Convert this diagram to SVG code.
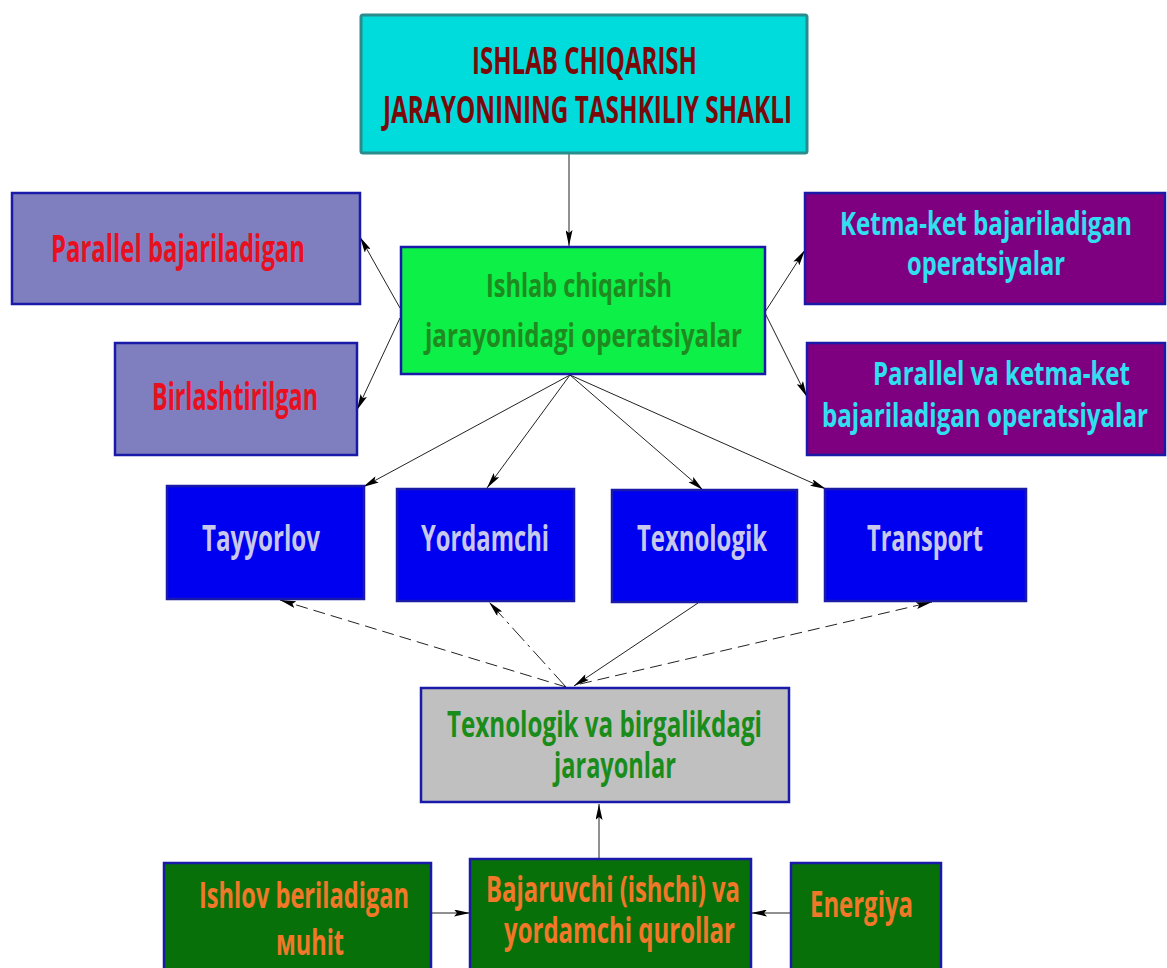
<svg xmlns="http://www.w3.org/2000/svg" width="1167" height="968" viewBox="0 0 1167 968">
<style>
text{font-family:"Open Sans",Lato,"Liberation Sans",sans-serif;font-weight:bold;text-anchor:middle}
.box{stroke:#1a1aa8;stroke-width:2.5}
.c{stroke:#222;stroke-width:1;fill:none}
.d1{stroke-dasharray:12 6}
.d2{stroke-dasharray:18 5 3 5}
.tt{fill:#7a0a0a;font-size:21.1px}
.tg{fill:#1f8a1f;font-size:18.3px}
.tr{fill:#e8101e;font-size:20.6px}
.tc{fill:#30e0f0;font-size:17.8px}
.tb{fill:#c8c8ec;font-size:20px}
.tj{fill:#1a8c1a;font-size:20px}
.to{fill:#f07828;font-size:19.6px}
</style>
<defs>
<marker id="ah" viewBox="0 0 16 7" refX="16" refY="3.5" markerWidth="16" markerHeight="7" markerUnits="userSpaceOnUse" orient="auto">
<path d="M0,0 L16,3.5 L0,7 L3,3.5 Z" fill="#000"/>
</marker>
</defs>
<rect width="1167" height="968" fill="#fff"/>
<g id="connectors">
<line class="c" x1="569" y1="153" x2="569" y2="246" marker-end="url(#ah)"/>
<line class="c" x1="400" y1="308" x2="360" y2="237" marker-end="url(#ah)"/>
<line class="c" x1="400" y1="318" x2="357" y2="410" marker-end="url(#ah)"/>
<line class="c" x1="765" y1="312" x2="805" y2="250" marker-end="url(#ah)"/>
<line class="c" x1="765" y1="313" x2="807" y2="397" marker-end="url(#ah)"/>
<line class="c" x1="570" y1="375" x2="363" y2="487" marker-end="url(#ah)"/>
<line class="c" x1="570" y1="375" x2="487" y2="488" marker-end="url(#ah)"/>
<line class="c" x1="570" y1="375" x2="703" y2="490" marker-end="url(#ah)"/>
<line class="c" x1="570" y1="375" x2="826" y2="489" marker-end="url(#ah)"/>
<line class="c d1" x1="566" y1="687" x2="280" y2="600" marker-end="url(#ah)"/>
<line class="c d2" x1="566" y1="687" x2="489" y2="602" marker-end="url(#ah)"/>
<line class="c" x1="698" y1="603" x2="574" y2="686" marker-end="url(#ah)"/>
<line class="c d1" x1="580" y1="684" x2="932" y2="602" marker-end="url(#ah)"/>
<line class="c" x1="599" y1="859" x2="599" y2="804" marker-end="url(#ah)"/>
<line class="c" x1="431" y1="913" x2="470" y2="913" marker-end="url(#ah)"/>
<line class="c" x1="791" y1="913" x2="751" y2="913" marker-end="url(#ah)"/>
</g>
<g id="n-top">
<rect x="361" y="15" width="446" height="138" rx="2" fill="#00dcdc" stroke="#2a8c8c" stroke-width="3"/>
<text class="tt" transform="translate(584.5 74) scale(1 1.8)" textLength="225" lengthAdjust="spacingAndGlyphs">ISHLAB CHIQARISH</text>
<text class="tt" transform="translate(587.5 123) scale(1 1.8)" textLength="409" lengthAdjust="spacingAndGlyphs">JARAYONINING TASHKILIY SHAKLI</text>
</g>
<g id="n-center">
<rect class="box" x="401" y="247" width="364" height="127" fill="#0cf048"/>
<text class="tg" transform="translate(579 297) scale(1 1.8)" textLength="186" lengthAdjust="spacingAndGlyphs">Ishlab chiqarish</text>
<text class="tg" transform="translate(583.5 347) scale(1 1.8)" textLength="317" lengthAdjust="spacingAndGlyphs">jarayonidagi operatsiyalar</text>
</g>
<g id="n-parallel">
<rect class="box" x="12" y="193" width="348" height="111" fill="#7f7fbf"/>
<text class="tr" transform="translate(178 262) scale(1 1.8)" textLength="254" lengthAdjust="spacingAndGlyphs">Parallel bajariladigan</text>
</g>
<g id="n-birlash">
<rect class="box" x="115" y="343" width="242" height="112" fill="#7f7fbf"/>
<text class="tr" transform="translate(235 410) scale(1 1.8)" textLength="166" lengthAdjust="spacingAndGlyphs">Birlashtirilgan</text>
</g>
<g id="n-ketma">
<rect class="box" x="805" y="193" width="360" height="111" fill="#7e0080"/>
<text class="tc" transform="translate(986 235) scale(1 1.8)" textLength="292" lengthAdjust="spacingAndGlyphs">Ketma-ket bajariladigan</text>
<text class="tc" transform="translate(986 275) scale(1 1.8)" textLength="158" lengthAdjust="spacingAndGlyphs">operatsiyalar</text>
</g>
<g id="n-parketma">
<rect class="box" x="807" y="343" width="358" height="112" fill="#7e0080"/>
<text class="tc" transform="translate(1001.5 385) scale(1 1.8)" textLength="257" lengthAdjust="spacingAndGlyphs">Parallel va ketma-ket</text>
<text class="tc" transform="translate(985 427) scale(1 1.8)" textLength="326" lengthAdjust="spacingAndGlyphs">bajariladigan operatsiyalar</text>
</g>
<g id="n-tayyorlov">
<rect class="box" x="167" y="486" width="197" height="113" fill="#0000f0" stroke="#1010d0"/>
<text class="tb" transform="translate(261 551) scale(1 1.8)" textLength="118" lengthAdjust="spacingAndGlyphs">Tayyorlov</text>
</g>
<g id="n-yordamchi">
<rect class="box" x="397" y="489" width="177" height="112" fill="#0000f0" stroke="#1010d0"/>
<text class="tb" transform="translate(485 551) scale(1 1.8)" textLength="128" lengthAdjust="spacingAndGlyphs">Yordamchi</text>
</g>
<g id="n-texnologik">
<rect class="box" x="612" y="490" width="185" height="112" fill="#0000f0" stroke="#1010d0"/>
<text class="tb" transform="translate(702 551) scale(1 1.8)" textLength="130" lengthAdjust="spacingAndGlyphs">Texnologik</text>
</g>
<g id="n-transport">
<rect class="box" x="825" y="489" width="201" height="112" fill="#0000f0" stroke="#1010d0"/>
<text class="tb" transform="translate(925 551) scale(1 1.8)" textLength="116" lengthAdjust="spacingAndGlyphs">Transport</text>
</g>
<g id="n-jarayonlar">
<rect class="box" x="421" y="688" width="368" height="114" fill="#c0c0c0"/>
<text class="tj" transform="translate(604.5 737) scale(1 1.8)" textLength="315" lengthAdjust="spacingAndGlyphs">Texnologik va birgalikdagi</text>
<text class="tj" transform="translate(615 778) scale(1 1.8)" textLength="122" lengthAdjust="spacingAndGlyphs">jarayonlar</text>
</g>
<g id="n-ishlov">
<rect class="box" x="164" y="863" width="267" height="110" fill="#087008"/>
<text class="to" transform="translate(304 908) scale(1 1.8)" textLength="210" lengthAdjust="spacingAndGlyphs">Ishlov beriladigan</text>
<text class="to" transform="translate(310 955) scale(1 1.8)" textLength="68" lengthAdjust="spacingAndGlyphs">мuhit</text>
</g>
<g id="n-bajaruvchi">
<rect class="box" x="470" y="859" width="281" height="114" fill="#087008"/>
<text class="to" transform="translate(613 902) scale(1 1.8)" textLength="254" lengthAdjust="spacingAndGlyphs">Bajaruvchi (ishchi) va</text>
<text class="to" transform="translate(619.5 943) scale(1 1.8)" textLength="231" lengthAdjust="spacingAndGlyphs">yordamchi qurollar</text>
</g>
<g id="n-energiya">
<rect class="box" x="791" y="863" width="150" height="110" fill="#087008"/>
<text class="to" transform="translate(861.5 917) scale(1 1.8)" textLength="103" lengthAdjust="spacingAndGlyphs">Energiya</text>
</g>
</svg>
